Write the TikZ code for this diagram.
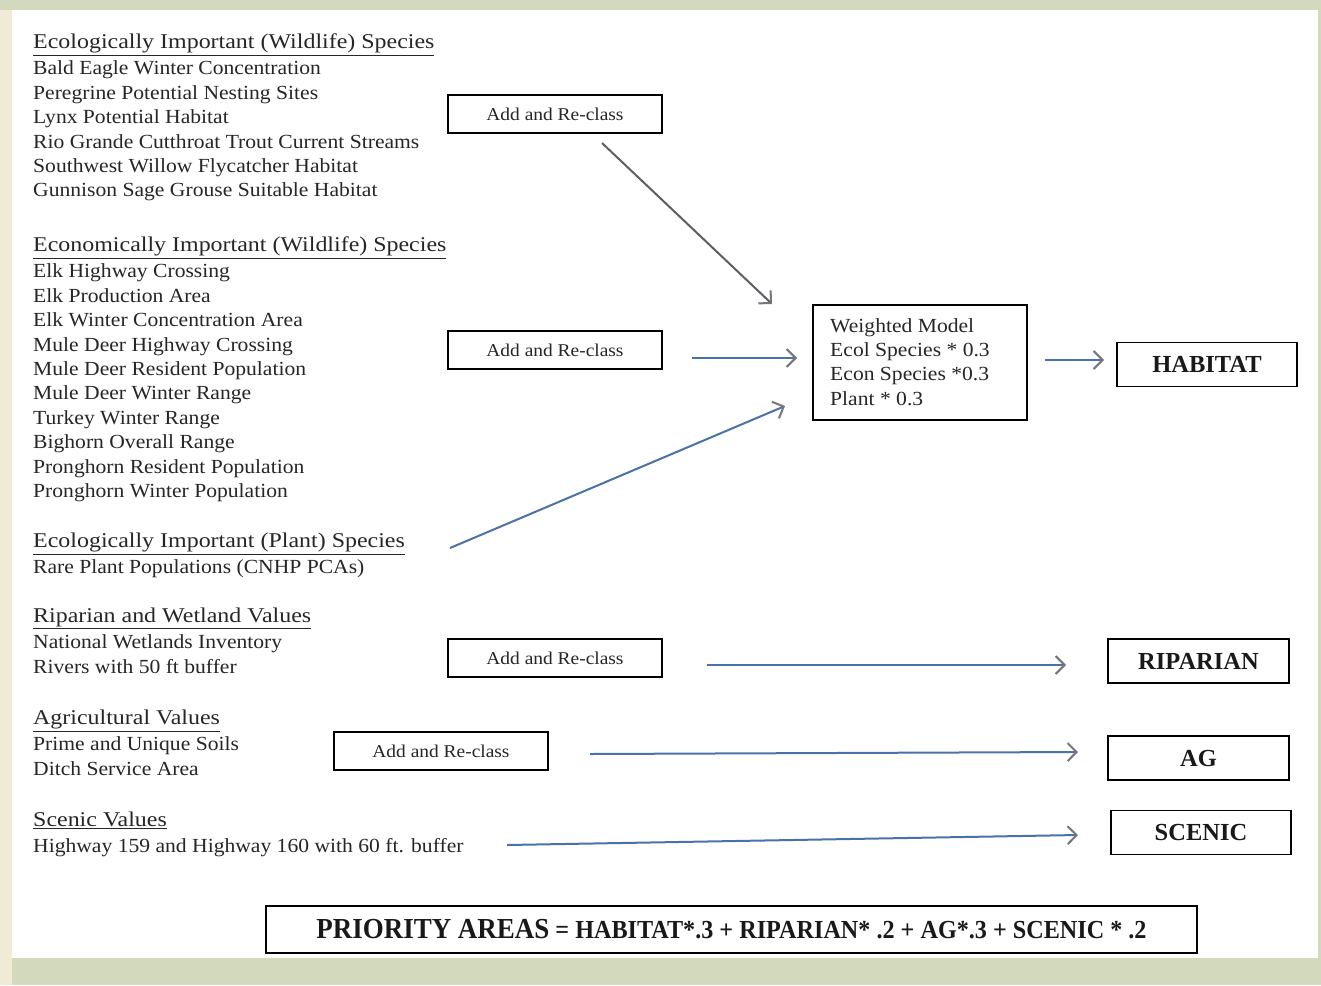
\documentclass[tikz,border=0pt]{standalone}
\usepackage{fontspec}
\setmainfont{Liberation Serif}
\newfontfamily\itemserif[FakeStretch=1.08]{Liberation Serif}
\newfontfamily\headserif[FakeStretch=1.14]{Liberation Serif}
\usetikzlibrary{arrows.meta}
\definecolor{bgreen}{HTML}{D3D9BD}
\definecolor{cream}{HTML}{EFEBD6}
\definecolor{lineblue}{HTML}{4A72A8}
\definecolor{tipgray}{HTML}{75767C}
\newcommand{\hd}[1]{{\headserif\fontsize{21}{24.4}\selectfont\underline{#1}}\\[1.6pt]}
\begin{document}
\begin{tikzpicture}[x=1pt,y=-1pt,
  listtext/.style={anchor=north west, align=left, inner sep=0pt, text=black!85,
    font=\itemserif\fontsize{20}{24.4}\selectfont},
  box/.style={draw=black, line width=1.8pt, inner sep=0pt},
  opbox/.style={box, minimum width=214pt, minimum height=38pt, text=black!85, font=\itemserif\fontsize{18}{20}\selectfont},
  outbox/.style={box, minimum width=180pt, minimum height=44pt, text=black!90, font=\bfseries\fontsize{24.5}{26}\selectfont},
  flow/.style={draw=lineblue, line width=2pt, -{Straight Barb[length=9pt,width=18pt,line width=2pt,color=tipgray]}},
  grayflow/.style={draw=tipgray!80!black, line width=2pt, -{Straight Barb[length=9pt,width=18pt,line width=2pt,color=tipgray]}}
]
\fill[bgreen] (0,0) rectangle (1321,985);
\fill[cream] (0,10) rectangle (12,985);
\fill[white] (12,10) rectangle (1318,958);
\useasboundingbox (0,0) rectangle (1321,985);

% left lists
\node[listtext] (ecol) at (33,34) {\hd{Ecologically Important (Wildlife) Species}
Bald Eagle Winter Concentration\\
Peregrine Potential Nesting Sites\\
Lynx Potential Habitat\\
Rio Grande Cutthroat Trout Current Streams\\
Southwest Willow Flycatcher Habitat\\
Gunnison Sage Grouse Suitable Habitat};

\node[listtext] (econ) at (33,237) {\hd{Economically Important (Wildlife) Species}
Elk Highway Crossing\\
Elk Production Area\\
Elk Winter Concentration Area\\
Mule Deer Highway Crossing\\
Mule Deer Resident Population\\
Mule Deer Winter Range\\
Turkey Winter Range\\
Bighorn Overall Range\\
Pronghorn Resident Population\\
Pronghorn Winter Population};

\node[listtext] (plant) at (33,533) {\hd{Ecologically Important (Plant) Species}
Rare Plant Populations (CNHP PCAs)};

\node[listtext] (ripl) at (33,608) {\hd{Riparian and Wetland Values}
National Wetlands Inventory\\
Rivers with 50 ft buffer};

\node[listtext] (agl) at (33,710) {\hd{Agricultural Values}
Prime and Unique Soils\\
Ditch Service Area};

\node[listtext] (scl) at (33,812) {\hd{Scenic Values}
Highway 159 and Highway 160 with 60 ft. buffer};

% operation boxes
\node[opbox] (add1) at (555,114) {Add and Re-class};
\node[opbox] (add2) at (555,350) {Add and Re-class};
\node[opbox] (add3) at (555,658) {Add and Re-class};
\node[opbox] (add4) at (441,751) {Add and Re-class};

\node[box, minimum width=214pt, minimum height=115pt] (wm) at (920,362.5) {};
\node[anchor=north west, align=left, inner sep=0pt, text=black!85,
  font=\itemserif\fontsize{20}{24.4}\selectfont] (wmtext) at (830,318)
  {Weighted Model\\ Ecol Species * 0.3\\ Econ Species *0.3\\ Plant * 0.3};

\node[outbox] (habitat) at (1207,364.5) {HABITAT};
\node[outbox, minimum width=181pt] (riparian) at (1198.5,661) {RIPARIAN};
\node[outbox, minimum width=181pt] (ag) at (1198.5,758) {AG};
\node[outbox] (scenic) at (1201,832.5) {SCENIC};

\node[box, minimum width=931pt, minimum height=47pt, text=black!90] (priority) at (731.5,929.5)
  {\scalebox{0.93}[1]{\bfseries\fontsize{29}{32}\selectfont PRIORITY AREAS\fontsize{26}{30}\selectfont{} = HABITAT*.3 + RIPARIAN* .2 + AG*.3 + SCENIC * .2}};

% connector end points
\coordinate (a1s) at (602,143);
\coordinate (wmin1) at (772,304);
\coordinate (a2s) at (692,358);
\coordinate (wmin2) at (797,358);
\coordinate (ps) at (450,548);
\coordinate (wmin3) at (785,406);
\coordinate (wmo) at (1045,360);
\coordinate (habin) at (1104,360);
\coordinate (a3s) at (707,665);
\coordinate (ripin) at (1066,665);
\coordinate (a4s) at (590,754);
\coordinate (agin) at (1078,752);
\coordinate (scs) at (507,845);
\coordinate (scin) at (1078,835);

\draw[grayflow] (a1s) -- (wmin1);
\draw[flow] (a2s) -- (wmin2);
\draw[flow] (ps) -- (wmin3);
\draw[flow] (wmo) -- (habin);
\draw[flow] (a3s) -- (ripin);
\draw[flow] (a4s) -- (agin);
\draw[flow] (scs) -- (scin);
\end{tikzpicture}
\end{document}
